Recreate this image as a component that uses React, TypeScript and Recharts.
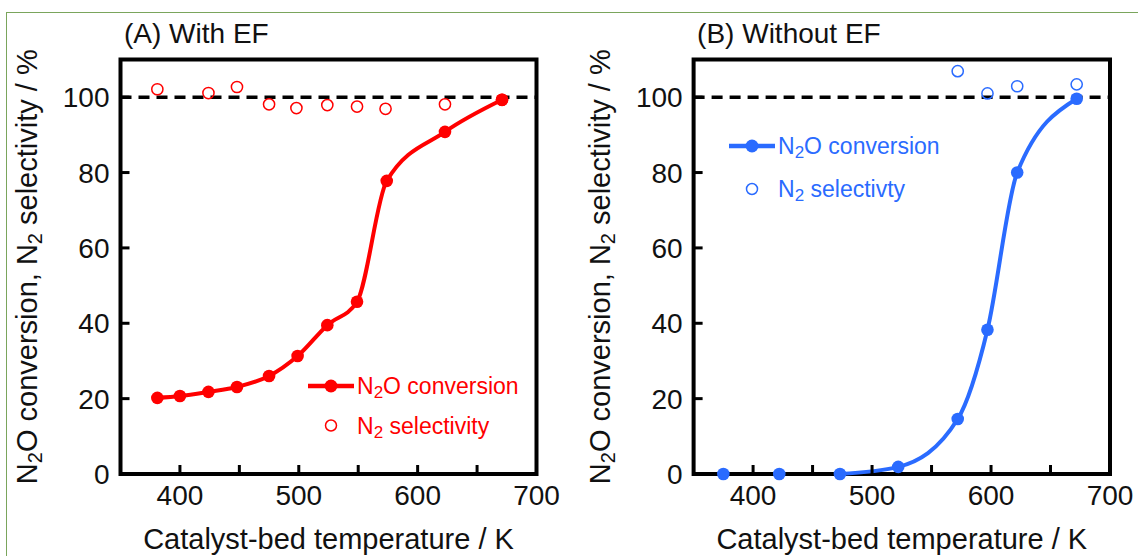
import React from "react";
import {ComposedChart, Line, Scatter, XAxis, YAxis, ReferenceArea, ReferenceLine, Legend, Label} from "recharts";

// (A) with EF
const tempA = [381, 400, 424, 448, 475, 499, 524, 549, 574, 623, 671];
const convA = [20.2, 20.7, 21.8, 23.1, 26.0, 31.3, 39.5, 45.7, 77.8, 90.8, 99.3];
const selTempA = [381, 424, 448, 475, 498, 524, 549, 573, 623, 671];
const selA = [102.1, 101.1, 102.7, 98.1, 97.1, 97.9, 97.5, 96.9, 98.1, 99.3];

// (B) without EF
const tempB = [375, 422, 473, 522, 572, 597, 622, 672];
const convB = [0, 0, 0, 1.9, 14.6, 38.3, 80.0, 99.6];
const curveStartB = 2; // the fitted curve starts at the 473 K point
const selTempB = [572, 597, 622, 672];
const selB = [106.9, 101.0, 102.9, 103.4];

const xTicks = [400, 450, 500, 550, 600, 650, 700];
const xLabels = [400, 500, 600, 700];
const yTicks = [0, 20, 40, 60, 80, 100];

const RED = "#ff0000";
const BLUE = "#2a6bff";
const FONT = "'Liberation Sans', Arial, sans-serif";

const rows = (t: number[], v: number[]) => t.map((x, i) => ({t: x, v: v[i]}));

const XTick = (props: any) => {
    const {x, y, payload} = props;
    return (
        <g>
            <line x1={x} x2={x} y1={y} y2={y - 9} stroke="#000" strokeWidth={3}/>
            {xLabels.includes(payload.value) && (
                <text x={x} y={y + 31} textAnchor="middle" fontSize={28} fontFamily={FONT} fill="#111">
                    {payload.value}
                </text>
            )}
        </g>
    );
};

const YTick = (props: any) => {
    const {x, y, payload} = props;
    return (
        <g>
            <line x1={x} x2={x + 9} y1={y} y2={y} stroke="#000" strokeWidth={3}/>
            <text x={x - 11} y={y + 10} textAnchor="end" fontSize={28} fontFamily={FONT} fill="#111">
                {payload.value}
            </text>
        </g>
    );
};

const XTitle = (props: any) => {
    const vb = props.viewBox;
    return (
        <text x={vb.x + vb.width / 2} y={vb.y + 75} textAnchor="middle" fontSize={29} fontFamily={FONT} fill="#111">
            Catalyst-bed temperature / K
        </text>
    );
};

const YTitle = (props: any) => {
    const vb = props.viewBox;
    const bx = vb.x + vb.width - 83.5;
    const cy = vb.y + vb.height / 2;
    return (
        <text x={bx} y={cy} transform={`rotate(-90 ${bx} ${cy})`} textAnchor="middle" fontSize={29}
              fontFamily={FONT} fill="#111">
            N<tspan dy={5} fontSize={20}>2</tspan><tspan dy={-5}>O conversion, N</tspan>
            <tspan dy={5} fontSize={20}>2</tspan><tspan dy={-5}> selectivity / %</tspan>
        </text>
    );
};

const filledDot = (color: string) => (p: any) => <circle cx={p.cx} cy={p.cy} r={6.3} fill={color}/>;
const openDot = (color: string) => (p: any) =>
    <circle cx={p.cx} cy={p.cy} r={5.6} fill="none" stroke={color} strokeWidth={1.5}/>;

const legendBox = (color: string, selText: string, rowGap: number) => () => (
    <svg width={260} height={100} style={{display: "block"}}>
        <line x1={8} x2={54} y1={21} y2={21} stroke={color} strokeWidth={4.5}/>
        <circle cx={31} cy={21} r={6.5} fill={color}/>
        <text x={57} y={29} fill={color} fontSize={23} fontFamily={FONT}>
            N<tspan dy={4} fontSize={17}>2</tspan><tspan dy={-4}>O conversion</tspan>
        </text>
        <circle cx={31} cy={21 + rowGap} r={5.5} fill="none" stroke={color} strokeWidth={1.5}/>
        <text x={57} y={29 + rowGap} fill={color} fontSize={23} fontFamily={FONT}>
            N<tspan dy={4} fontSize={17}>2</tspan><tspan dy={-4}> {selText}</tspan>
        </text>
    </svg>
);

interface PanelProps {
    title: string;
    left: number;
    marginLeft: number;
    marginRight: number;
    color: string;
    conv: { t: number; v: number }[];
    curve: { t: number; v: number }[];
    sel: { t: number; v: number }[];
    selText: string;
    legendPos: { left: number; top: number };
    rowGap: number;
}

const Panel = (p: PanelProps) => (
    <div style={{position: "absolute", left: p.left, top: 0, width: 569, height: 556}}>
        <ComposedChart width={569} height={556}
                       margin={{top: 59.5, right: p.marginRight, bottom: 22, left: p.marginLeft}}>
            <XAxis type="number" dataKey="t" domain={[350, 700]} ticks={xTicks} interval={0}
                   tick={<XTick/>} tickLine={false} tickSize={0} tickMargin={0} axisLine={false}
                   height={60} label={<Label content={XTitle}/>}/>
            <YAxis type="number" dataKey="v" domain={[0, 110]} ticks={yTicks} interval={0}
                   tick={<YTick/>} tickLine={false} tickSize={0} tickMargin={0} axisLine={false}
                   width={60} label={<Label content={YTitle}/>}/>
            <ReferenceLine y={100} stroke="#000" strokeWidth={3.5} strokeDasharray="11 7"/>
            <ReferenceArea x1={350} x2={700} y1={0} y2={110} fill="none" fillOpacity={0}
                           stroke="#000" strokeWidth={4} strokeOpacity={1}/>
            <Line data={p.curve} dataKey="v" type="monotone" stroke={p.color} strokeWidth={4}
                  dot={false} activeDot={false} isAnimationActive={false}/>
            <Scatter data={p.sel} dataKey="v" shape={openDot(p.color)} isAnimationActive={false}/>
            <Scatter data={p.conv} dataKey="v" shape={filledDot(p.color)} isAnimationActive={false}/>
            <Legend layout="vertical" align="center" verticalAlign="middle"
                    wrapperStyle={{left: p.legendPos.left, top: p.legendPos.top, width: 260}}
                    content={legendBox(p.color, p.selText, p.rowGap)}/>
        </ComposedChart>
        <div style={{position: "absolute", left: p.marginLeft + 63.5, top: 20, fontSize: 28, lineHeight: "28px",
            fontFamily: FONT, color: "#111", whiteSpace: "nowrap"}}>
            {p.title}
        </div>
    </div>
);

export default function App() {
    const convRowsA = rows(tempA, convA);
    const convRowsB = rows(tempB, convB);
    return (
        <div style={{position: "absolute", left: 0, top: 0, width: 1138, height: 556, overflow: "hidden",
            background: "#fff", fontFamily: FONT}}>
            <div style={{position: "absolute", left: 6, top: 12, width: 1200, height: 600,
                border: "1px solid #7aa55c"}}/>
            <Panel title="(A) With EF" left={0} marginLeft={60.5} marginRight={32.5} color={RED}
                   conv={convRowsA} curve={convRowsA} sel={rows(selTempA, selA)}
                   selText="selectivity" legendPos={{left: 300, top: 365}} rowGap={39.5}/>
            <Panel title="(B) Without EF" left={569} marginLeft={64.6} marginRight={28} color={BLUE}
                   conv={convRowsB} curve={convRowsB.slice(curveStartB)} sel={rows(selTempB, selB)}
                   selText="selectivty" legendPos={{left: 152, top: 125}} rowGap={43}/>
        </div>
    );
}
